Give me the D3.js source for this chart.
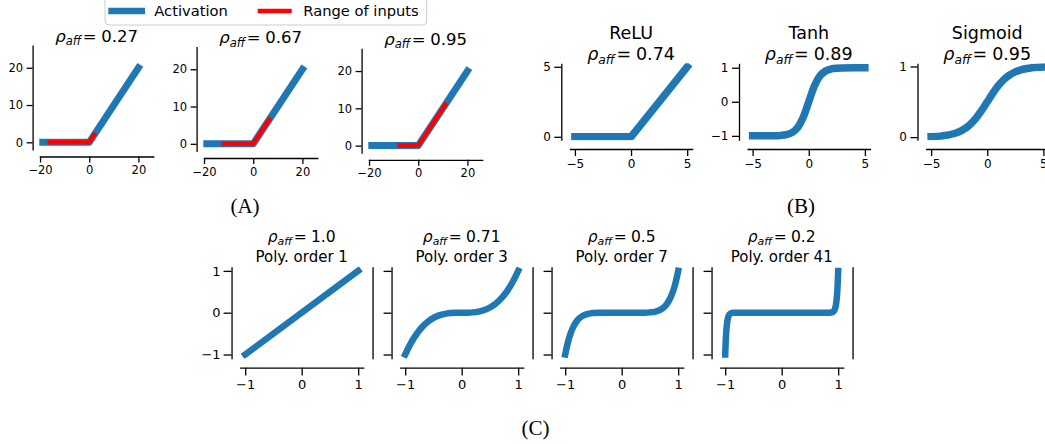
<!DOCTYPE html>
<html><head><meta charset="utf-8">
<script src="https://cdn.jsdelivr.net/npm/d3@7"></script>
<style>body{margin:0;background:#fff}svg{display:block}</style>
</head><body><svg id="c" width="1045" height="444"></svg>
<script>
// ---------- data ----------
// (A) ReLU activation with the range of inputs
const aActX = [-20, 0, 20];
const aActY = [0, 0, 20];
const aRangeStart = [-16, -12, -7.5];
const aRangeEnd = [2, 6.5, 11];
const aRho = ["0.27", "0.67", "0.95"];
const aTicksX = [-20, 0, 20];
const aTicksY = [0, 10, 20];

// (B) activations
const bNames = ["ReLU", "Tanh", "Sigmoid"];
const bRho = ["0.74", "0.89", "0.95"];
const bX = [-5, -4, -3, -2.5, -2, -1.5, -1, -0.5, 0, 0.5, 1, 1.5, 2, 2.5, 3, 4, 5];
const bRelu = [0, 0, 0, 0, 0, 0, 0, 0, 0, 0.5, 1, 1.5, 2, 2.5, 3, 4, 5];
const bTanh = [-0.9999, -0.9993, -0.9951, -0.9866, -0.964, -0.9051, -0.7616, -0.4621, 0, 0.4621, 0.7616, 0.9051, 0.964, 0.9866, 0.9951, 0.9993, 0.9999];
const bSigmoid = [0.0067, 0.018, 0.0474, 0.0759, 0.1192, 0.1824, 0.2689, 0.3775, 0.5, 0.6225, 0.7311, 0.8176, 0.8808, 0.9241, 0.9526, 0.982, 0.9933];
const bTicksX = [-5, 0, 5];
const bTicksY = [[0, 5], [-1, 0, 1], [0, 1]];

// (C) polynomials
const cRho = ["1.0", "0.71", "0.5", "0.2"];
const cOrder = [1, 3, 7, 41];
const cX1 = [-1, 1];
const cY1 = [-1, 1];
const cX3 = [-1, -0.9, -0.8, -0.7, -0.6, -0.5, -0.4, -0.3, -0.2, -0.1, 0, 0.1, 0.2, 0.3, 0.4, 0.5, 0.6, 0.7, 0.8, 0.9, 1];
const cY3 = [-1, -0.729, -0.512, -0.343, -0.216, -0.125, -0.064, -0.027, -0.008, -0.001, 0, 0.001, 0.008, 0.027, 0.064, 0.125, 0.216, 0.343, 0.512, 0.729, 1];
const cX7 = [-1, -0.95, -0.9, -0.85, -0.8, -0.75, -0.7, -0.6, -0.5, -0.4, -0.2, 0, 0.2, 0.4, 0.5, 0.6, 0.7, 0.75, 0.8, 0.85, 0.9, 0.95, 1];
const cY7 = [-1, -0.698, -0.478, -0.321, -0.21, -0.133, -0.082, -0.028, -0.0078, -0.0016, 0, 0, 0, 0.0016, 0.0078, 0.028, 0.082, 0.133, 0.21, 0.321, 0.478, 0.698, 1];
const cX41 = [-1, -0.99, -0.98, -0.97, -0.96, -0.95, -0.93, -0.9, -0.85, -0.8, 0, 0.8, 0.85, 0.9, 0.93, 0.95, 0.96, 0.97, 0.98, 0.99, 1];
const cY41 = [-1, -0.662, -0.437, -0.287, -0.188, -0.122, -0.051, -0.013, -0.0013, 0, 0, 0, 0.0013, 0.013, 0.051, 0.122, 0.188, 0.287, 0.437, 0.662, 1];
const cTicks = [-1, 0, 1];

// ---------- drawing ----------
const BLUE = "#1f77b4", RED = "#ff0000";
const FONT = "DejaVu Sans";
const svg = d3.select("#c");
const zip = (xs, ys) => xs.map((v, i) => [v, ys[i]]);
let clipId = 0;

function panel(c) {
  const x = d3.scaleLinear().domain(c.xd).range([c.l, c.l + c.w]);
  const y = d3.scaleLinear().domain(c.yd).range([c.t + c.h, c.t]);
  const fmt = d3.format("");
  const gx = svg.append("g").attr("transform", `translate(0,${c.t + c.h + c.ob})`)
    .call(d3.axisBottom(x).tickValues(c.xt).tickSize(c.ts).tickPadding(c.px).tickSizeOuter(0).tickFormat(fmt));
  const gy = svg.append("g").attr("transform", `translate(${c.l - c.ol},0)`)
    .call(d3.axisLeft(y).tickValues(c.yt).tickSize(c.tsy || c.ts).tickPadding(c.py).tickSizeOuter(0)
      .tickFormat(c.noYLab ? () => "" : fmt));
  for (const g of [gx, gy]) {
    g.attr("font-family", FONT).attr("font-size", c.fs);
    g.selectAll("path,line").attr("stroke", "#000").attr("stroke-width", 1.3);
    g.selectAll("text").attr("fill", "#000");
  }
  if (c.rightSpine) {
    const gr = svg.append("g").attr("transform", `translate(${c.l + c.w + c.or},0)`)
      .call(d3.axisRight(y).tickValues([]).tickSizeOuter(0));
    gr.selectAll("path").attr("stroke", "#000").attr("stroke-width", 1.3);
  }
  const id = "clip" + (clipId++);
  svg.append("clipPath").attr("id", id).append("rect")
    .attr("x", c.l).attr("y", c.t).attr("width", c.w).attr("height", c.h);
  const gp = svg.append("g").attr("clip-path", `url(#${id})`);
  for (const s of c.series) {
    const line = d3.line().x(d => x(d[0])).y(d => y(d[1]))
      .curve(s.smooth ? d3.curveMonotoneX : d3.curveLinear);
    gp.append("path").attr("d", line(s.pts)).attr("fill", "none")
      .attr("stroke", s.color).attr("stroke-width", s.lw)
      .attr("stroke-linecap", "square").attr("stroke-linejoin", "round");
  }
  return { x, y };
}

function rhoText(x, yb, fs, val, sub) {
  const sh = fs * (sub || 0.2);
  const t = svg.append("text").attr("x", x).attr("y", yb).attr("text-anchor", "middle")
    .attr("font-family", FONT).attr("font-size", fs).attr("fill", "#000");
  t.append("tspan").attr("font-style", "italic").text("\u03c1");
  t.append("tspan").attr("font-style", "italic").attr("font-size", fs * 0.7).attr("dy", sh).text("aff");
  t.append("tspan").attr("dy", -sh).attr("dx", fs * 0.1).text("=");
  t.append("tspan").attr("dx", fs * 0.28).text(val);
}
function plainText(x, yb, fs, s, fam) {
  svg.append("text").attr("x", x).attr("y", yb).attr("text-anchor", "middle")
    .attr("font-family", fam || FONT).attr("font-size", fs).attr("fill", "#000").text(s);
}

// (A)
const aLeft = [39.3, 203.3, 368.3], aTop = [45, 46.5, 48.3];
aRho.forEach((rho, i) => {
  const c = {
    l: aLeft[i], t: aTop[i], w: 114.6, h: 105, xd: [-20.3, 26.3], yd: [-2.06, 26.1],
    xt: aTicksX, yt: aTicksY, ts: 6, px: 3.5, py: 3.5, ob: 6.5, ol: 6.7, fs: 11.5,
    series: [
      { pts: zip(aActX, aActY), color: BLUE, lw: 7 },
      { pts: [[aRangeStart[i], 0], [0, 0], [aRangeEnd[i], aRangeEnd[i]]], color: RED, lw: 4.5 }
    ]
  };
  panel(c);
  rhoText(c.l + c.w / 2, c.t - 3.3, 16.5, rho);
});

// legend
const lg = svg.append("g");
lg.append("rect").attr("x", 105).attr("y", -6).attr("width", 321.7).attr("height", 31).attr("rx", 4)
  .attr("fill", "#fff").attr("fill-opacity", 0.8).attr("stroke", "#cccccc").attr("stroke-width", 1);
lg.append("line").attr("x1", 108.3).attr("x2", 145).attr("y1", 11).attr("y2", 11).attr("stroke", BLUE).attr("stroke-width", 6.5);
lg.append("text").attr("x", 154.3).attr("y", 16).attr("font-family", FONT).attr("font-size", 14.7).text("Activation");
lg.append("line").attr("x1", 257.7).attr("x2", 291.7).attr("y1", 11).attr("y2", 11).attr("stroke", RED).attr("stroke-width", 4.5);
lg.append("text").attr("x", 303.3).attr("y", 16).attr("font-family", FONT).attr("font-size", 14.7).text("Range of inputs");

// (B)
const bLeft = [569.3, 747, 925.5];
const bYd = [[-0.25, 5.25], [-1.13, 1.13], [-0.045, 1.045]];
const bSeries = [bRelu, bTanh, bSigmoid];
bNames.forEach((nm, i) => {
  const c = {
    l: bLeft[i], t: 63.3, w: 123.5, h: 77, xd: [-5.5, 5.5], yd: bYd[i],
    xt: bTicksX, yt: bTicksY[i], ts: 7, px: 3.8, py: 3.5, ob: 8.7, ol: 8, fs: 12,
    series: [{ pts: zip(bX, bSeries[i]), color: BLUE, lw: 7.5, smooth: i > 0 }]
  };
  panel(c);
  const cx = c.l + c.w / 2;
  plainText(cx, 39, 17.5, nm);
  rhoText(cx, 60, 17.5, bRho[i]);
});

// (C)
const cData = [[cX1, cY1], [cX3, cY3], [cX7, cY7], [cX41, cY41]];
cOrder.forEach((ord, i) => {
  const c = {
    l: 239.55 + 160 * i, t: 266.7, w: 124.3, h: 92, xd: [-1.1, 1.1], yd: [-1.1, 1.1],
    xt: cTicks, yt: cTicks, ts: 7.7, tsy: 8, px: 4.6, py: 3, ob: 9, ol: 8, or: 8.7, fs: 13,
    noYLab: i > 0, rightSpine: true,
    series: [{ pts: zip(cData[i][0], cData[i][1]), color: BLUE, lw: 6.5, smooth: i > 0 }]
  };
  panel(c);
  const cx = c.l + c.w / 2;
  rhoText(cx, 242, 15.5, cRho[i], 0.17);
  plainText(cx, 261.5, 15, "Poly. order " + ord);
});

// panel labels
plainText(245, 213, 21, "(A)", "Liberation Serif");
plainText(801, 213, 21, "(B)", "Liberation Serif");
plainText(535.5, 435, 21, "(C)", "Liberation Serif");
</script></body></html>
